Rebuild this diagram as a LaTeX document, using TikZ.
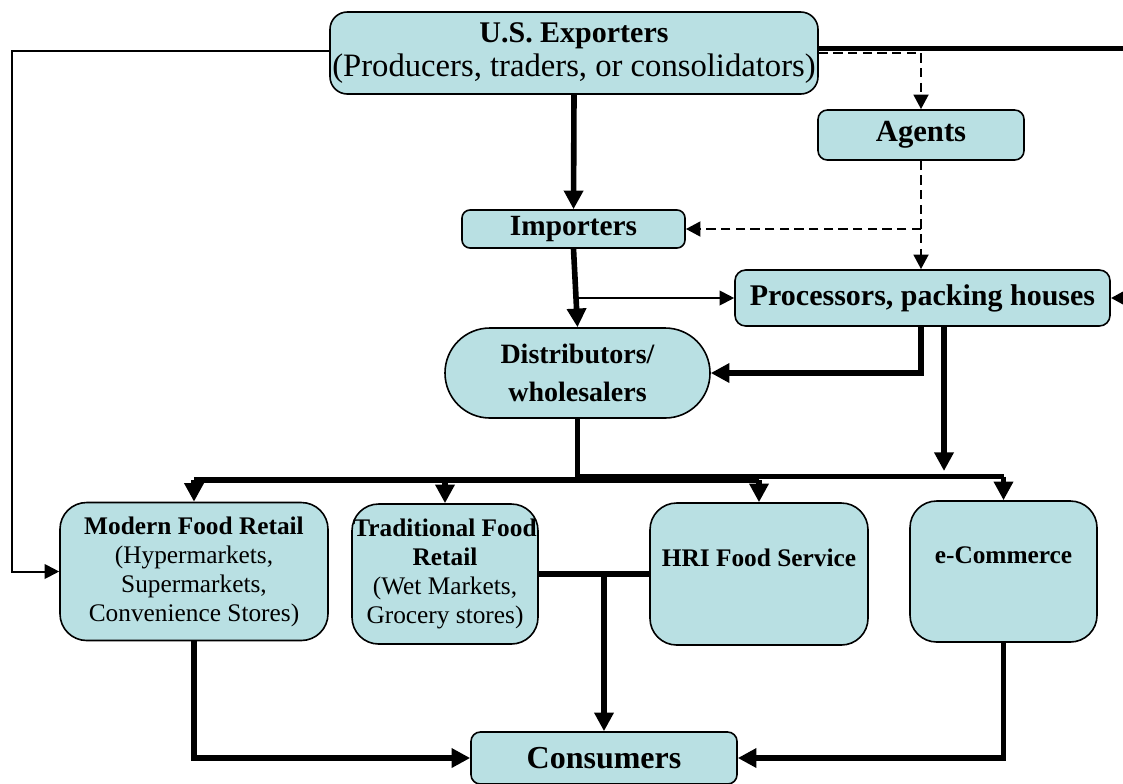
\documentclass[tikz,border=0pt]{standalone}
\usepackage{fontspec}
\setmainfont{Liberation Serif}
\usetikzlibrary{arrows.meta}
\definecolor{boxfill}{RGB}{185,224,227}
\begin{document}
\begin{tikzpicture}[x=0.75pt,y=-0.75pt,
  box/.style={draw, fill=boxfill, line width=1.2pt, align=center, inner sep=0pt},
  heavy/.style={line width=4.2pt},
  thk/.style={heavy, -{Triangle[width=14pt,length=14pt]}},
  thn/.style={line width=1.5pt, -{Triangle[width=11pt,length=11pt]}},
  dsh/.style={line width=2.2pt, dash pattern=on 7pt off 4pt, -{Triangle[width=11pt,length=11pt]}},
  low/.style={box, rounded corners=20pt, font=\fontsize{19}{21.8}\selectfont},
  uptext/.style={text depth=25pt}]
\useasboundingbox (0,0) rectangle (1123,783);
\node[box, rounded corners=13pt, minimum width=366pt, minimum height=61.5pt, font=\fontsize{24.5}{25.5}\selectfont] (exp) at (574,53) {{\fontsize{22.5}{25}\selectfont\bfseries U.S. Exporters}\\(Producers, traders, or consolidators)};
\node[box, rounded corners=7pt, minimum width=154.5pt, minimum height=37.5pt, font=\fontsize{23}{25}\selectfont\bfseries] (agt) at (921,135) {Agents};
\node[box, rounded corners=6pt, minimum width=167.25pt, minimum height=28.5pt, font=\fontsize{22}{24}\selectfont\bfseries] (imp) at (573.5,229) {Importers};
\node[box, rounded corners=8pt, minimum width=281.25pt, minimum height=42pt, font=\fontsize{22.5}{24}\selectfont\bfseries] (proc) at (922.5,298) {Processors, packing houses};
\node[box, rounded corners=33.7pt, minimum width=198.75pt, minimum height=67.5pt, font=\fontsize{21}{28}\selectfont\bfseries] (dist) at (577.5,373) {Distributors/\\wholesalers};
\node[low, minimum width=201pt, minimum height=103.5pt] (mfr) at (194,571.5) {\textbf{Modern Food Retail}\\(Hypermarkets,\\Supermarkets,\\Convenience Stores)};
\node[low, minimum width=139.5pt, minimum height=105pt] (tfr) at (445,574) {\textbf{Traditional Food}\\\textbf{Retail}\\(Wet Markets,\\Grocery stores)};
\node[low, uptext, minimum width=163.5pt, minimum height=106.5pt] (hri) at (759,574) {\textbf{HRI Food Service}};
\node[low, uptext, minimum width=140.25pt, minimum height=105.75pt] (ecom) at (1003.5,571.5) {\textbf{e-Commerce}};
\node[box, rounded corners=7pt, minimum width=199.5pt, minimum height=39pt, font=\fontsize{24}{26}\selectfont\bfseries] (cons) at (604,758) {Consumers};
\coordinate (lft) at (12,300);
\coordinate (rgt) at (1127,298);
\coordinate (busa) at (577,480);
\coordinate (busb) at (577,476.5);
\coordinate (pd) at (944,471);
\draw[thn] ([yshift=1.5pt]exp.west) -| (lft) |- (mfr.west);
\draw[thk] ([yshift=3.5pt]exp.east) -| (rgt) -- (proc.east);
\draw[dsh] ([yshift=0pt]exp.east) -| (agt.north);
\draw[dsh] (agt.south) -- (agt.south |- proc.north);
\draw[dsh] (agt.south |- imp.east) -- (imp.east);
\draw[thk] (exp.south) -- (imp.north);
\draw[thk] (imp.south) -- (dist.north);
\draw[thn] (imp.south |- proc.west) -- (proc.west);
\draw[thk] ([xshift=-1pt]proc.south) |- (dist.east);
\draw[thk] (pd |- proc.south) -- (pd);
\draw[heavy] (dist.south) -- (dist.south |- busa);
\draw[heavy] (mfr.north |- busa) -- (hri.north |- busa);
\draw[heavy] (dist.south |- busb) -- (ecom.north |- busb);
\foreach \n in {mfr, tfr, hri} \draw[thk] (\n.north |- busa) -- (\n.north);
\draw[thk] (ecom.north |- busb) -- (ecom.north);
\draw[heavy] (tfr.east) -- (hri.west);
\draw[thk] (cons.north |- tfr.east) -- (cons.north);
\draw[thk] (mfr.south) |- (cons.west);
\draw[thk] (ecom.south) |- (cons.east);
\end{tikzpicture}
\end{document}
